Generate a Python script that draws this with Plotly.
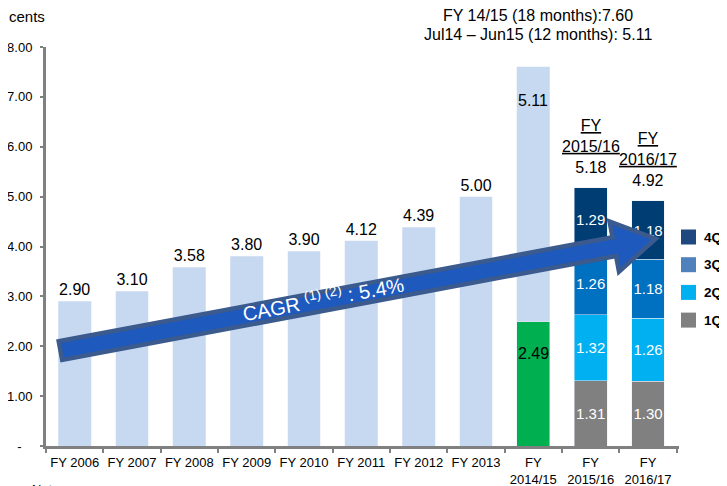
import plotly.graph_objects as go
import math

# ---------------- data ----------------
categories = ["FY 2006", "FY 2007", "FY 2008", "FY 2009", "FY 2010", "FY 2011",
              "FY 2012", "FY 2013", "FY<br>2014/15", "FY<br>2015/16", "FY<br>2016/17"]
annual = [2.90, 3.10, 3.58, 3.80, 3.90, 4.12, 4.39, 5.00, 5.11, None, None]
fy1415_part = [None] * 8 + [2.49, None, None]
q1 = [None] * 9 + [1.31, 1.30]
q2 = [None] * 9 + [1.32, 1.26]
q3 = [None] * 9 + [1.26, 1.18]
q4 = [None] * 9 + [1.29, 1.18]
totals = [None] * 9 + [5.18, 4.92]
total_labels = ["FY<br>2015/16", "FY<br>2016/17"]
y_ticks = [0, 1, 2, 3, 4, 5, 6, 7, 8]
y_ticktext = ["-<span style='color:rgba(0,0,0,0)'>0.</span>", "1.00", "2.00", "3.00", "4.00",
              "5.00", "6.00", "7.00", "8.00"]
legend_names = ["4Q", "3Q", "2Q", "1Q"]
title_lines = ["FY 14/15 (18 months):7.60", "Jul14 \u2013 Jun15 (12 months): 5.11"]
cagr_text = "CAGR <sup>(1) (2)</sup> : 5.4%"

# ---------------- styles ----------------
FONT = "Arial, 'Liberation Sans', sans-serif"
LIGHT = "#C6D9F1"
GREEN = "#00B050"
C1, C2, C3, C4 = "#808080", "#00B0F0", "#0070C0", "#003D73"
LEG_COLORS = ["#1F487F", "#4F81BD", "#00B0F0", "#808080"]
AXIS = "#808080"

# page body margin offsets the figure by 8px
OFF = 8
W, H = 727 - OFF, 486 - OFF
PLOT_L, PLOT_R, PLOT_T, PLOT_B = 46, 679, 47, 446   # screen pixels
ML, MT = PLOT_L - OFF, PLOT_T - OFF
MR, MB = W - (PLOT_R - OFF), H - (PLOT_B - OFF)
PW, PH = PLOT_R - PLOT_L, PLOT_B - PLOT_T


def px2paper(px, py):
    return (px - PLOT_L) / PW, (PLOT_B - py) / PH


fig = go.Figure()

fig.add_bar(x=categories, y=fy1415_part, marker_color=GREEN, showlegend=False,
            hoverinfo="skip")
for vals, col in [(q1, C1), (q2, C2), (q3, C3), (q4, C4)]:
    fig.add_bar(x=categories, y=vals, marker_color=col, showlegend=False,
                text=[f"{v:.2f}" if v is not None else "" for v in vals],
                textposition="inside", insidetextanchor="middle", textangle=0,
                constraintext="none",
                textfont=dict(color="white", size=15, family=FONT),
                hoverinfo="skip")
fig.add_bar(x=categories, y=annual, marker_color=LIGHT, showlegend=False,
            text=[f"{v:.2f}" if (v is not None and i < 8) else "" for i, v in enumerate(annual)],
            textposition="outside", cliponaxis=False, textangle=0, constraintext="none",
            textfont=dict(color="black", size=16, family=FONT), hoverinfo="skip")

annotations = []
# labels inside FY 2014/15 stack
annotations.append(dict(x=categories[8], y=fy1415_part[8] + annual[8], text=f"{annual[8]:.2f}",
                        showarrow=False, yanchor="middle", yshift=-34,
                        font=dict(size=16, color="black", family=FONT)))
annotations.append(dict(x=categories[8], y=fy1415_part[8], text=f"{fy1415_part[8]:.2f}",
                        showarrow=False, yanchor="middle", yshift=-32,
                        font=dict(size=16, color="black", family=FONT)))
# totals above quarterly stacks
for idx, lab in zip([9, 10], total_labels):
    a, b = lab.split("<br>")
    annotations.append(dict(x=categories[idx], y=totals[idx],
                            text=f"<u>{a}</u><br><u>{b}</u><br>{totals[idx]:.2f}",
                            showarrow=False, yanchor="bottom", yshift=10,
                            font=dict(size=16, color="black", family=FONT)))
# header text (two lines)
for line, ly_px in zip(title_lines, [15.5, 34.5]):
    hx, hy = px2paper(538, ly_px)
    annotations.append(dict(xref="paper", yref="paper", x=hx, y=hy, text=line,
                            showarrow=False, xanchor="center", yanchor="middle",
                            font=dict(size=16, color="black", family=FONT)))
cx, cy = px2paper(7, 17)
annotations.append(dict(xref="paper", yref="paper", x=cx, y=cy, text="cents",
                        showarrow=False, xanchor="left", yanchor="middle",
                        font=dict(size=15, color="black", family=FONT)))
nx, ny = px2paper(30, 480)
annotations.append(dict(xref="paper", yref="paper", x=nx, y=ny, text="Notes:",
                        showarrow=False, xanchor="left", yanchor="top",
                        font=dict(size=13, color="black", family=FONT)))

# ---------------- arrow ----------------
tail = (58.0, 351.0)
tip = (660.0, 238.0)
dx, dy = tip[0] - tail[0], tip[1] - tail[1]
L = math.hypot(dx, dy)
u = (dx / L, dy / L)
n = (-u[1], u[0])
body_w, head_w = 9.5, 25.5
head_base, tip_along, tail_along = L - 46.5, L - 4.5, 2.5


def pt(along, off):
    return (tail[0] + u[0] * along + n[0] * off, tail[1] + u[1] * along + n[1] * off)


poly = [pt(tail_along, -body_w), pt(head_base, -body_w), pt(head_base, -head_w),
        pt(tip_along, 0), pt(head_base, head_w), pt(head_base, body_w), pt(tail_along, body_w)]
path = ""
for i, (px, py) in enumerate(poly):
    xp, yp = px2paper(px, py)
    path += ("M" if i == 0 else "L") + f"{xp:.5f},{yp:.5f} "
path += "Z"
shapes = [dict(type="path", xref="paper", yref="paper", path=path,
               fillcolor="#1E59BD", line=dict(color="#3B5A8D", width=4.5), layer="above")]

ang = math.degrees(math.atan2(dy, dx))
tx, ty = px2paper(323, 297)
annotations.append(dict(xref="paper", yref="paper", x=tx, y=ty, text=cagr_text,
                        showarrow=False, xanchor="center", yanchor="middle", textangle=ang,
                        font=dict(size=20, color="white", family=FONT)))

# ---------------- manual legend ----------------
for k, (name, col) in enumerate(zip(legend_names, LEG_COLORS)):
    cyp = 237 + 27.7 * k
    x0, y0 = px2paper(681, cyp - 7.5)
    x1, y1 = px2paper(696, cyp + 7.5)
    shapes.append(dict(type="rect", xref="paper", yref="paper", x0=x0, x1=x1, y0=y0, y1=y1,
                       fillcolor=col, line=dict(width=0)))
    lx, ly = px2paper(703, cyp)
    annotations.append(dict(xref="paper", yref="paper", x=lx, y=ly, text=f"<b>{name}</b>",
                            showarrow=False, xanchor="left", yanchor="middle", borderpad=0,
                            font=dict(size=13.5, color="black", family=FONT)))

fig.update_layout(
    width=W, height=H, margin=dict(l=ML, r=MR, t=MT, b=MB, pad=0, autoexpand=False),
    barmode="stack", bargap=0.426,
    plot_bgcolor="white", paper_bgcolor="white",
    font=dict(family=FONT, color="black"),
    annotations=annotations, shapes=shapes, showlegend=False,
)
fig.update_xaxes(type="category", categoryorder="array", categoryarray=categories,
                 showline=True, linecolor=AXIS, linewidth=2.5, showgrid=False,
                 ticks="outside", tickson="boundaries", ticklen=4, tickcolor=AXIS, tickwidth=1.5,
                 tickangle=0, automargin=False, ticklabelstandoff=3,
                 tickfont=dict(size=13, color="black", family=FONT))
fig.update_yaxes(range=[0, 8], tickvals=y_ticks, ticktext=y_ticktext,
                 showline=True, linecolor=AXIS, linewidth=3, showgrid=False, zeroline=False,
                 ticks="outside", ticklen=3, tickcolor=AXIS, tickwidth=1.5,
                 ticklabelstandoff=5, automargin=False,
                 tickfont=dict(size=13, color="black", family=FONT))

fig.write_html("out.html")
